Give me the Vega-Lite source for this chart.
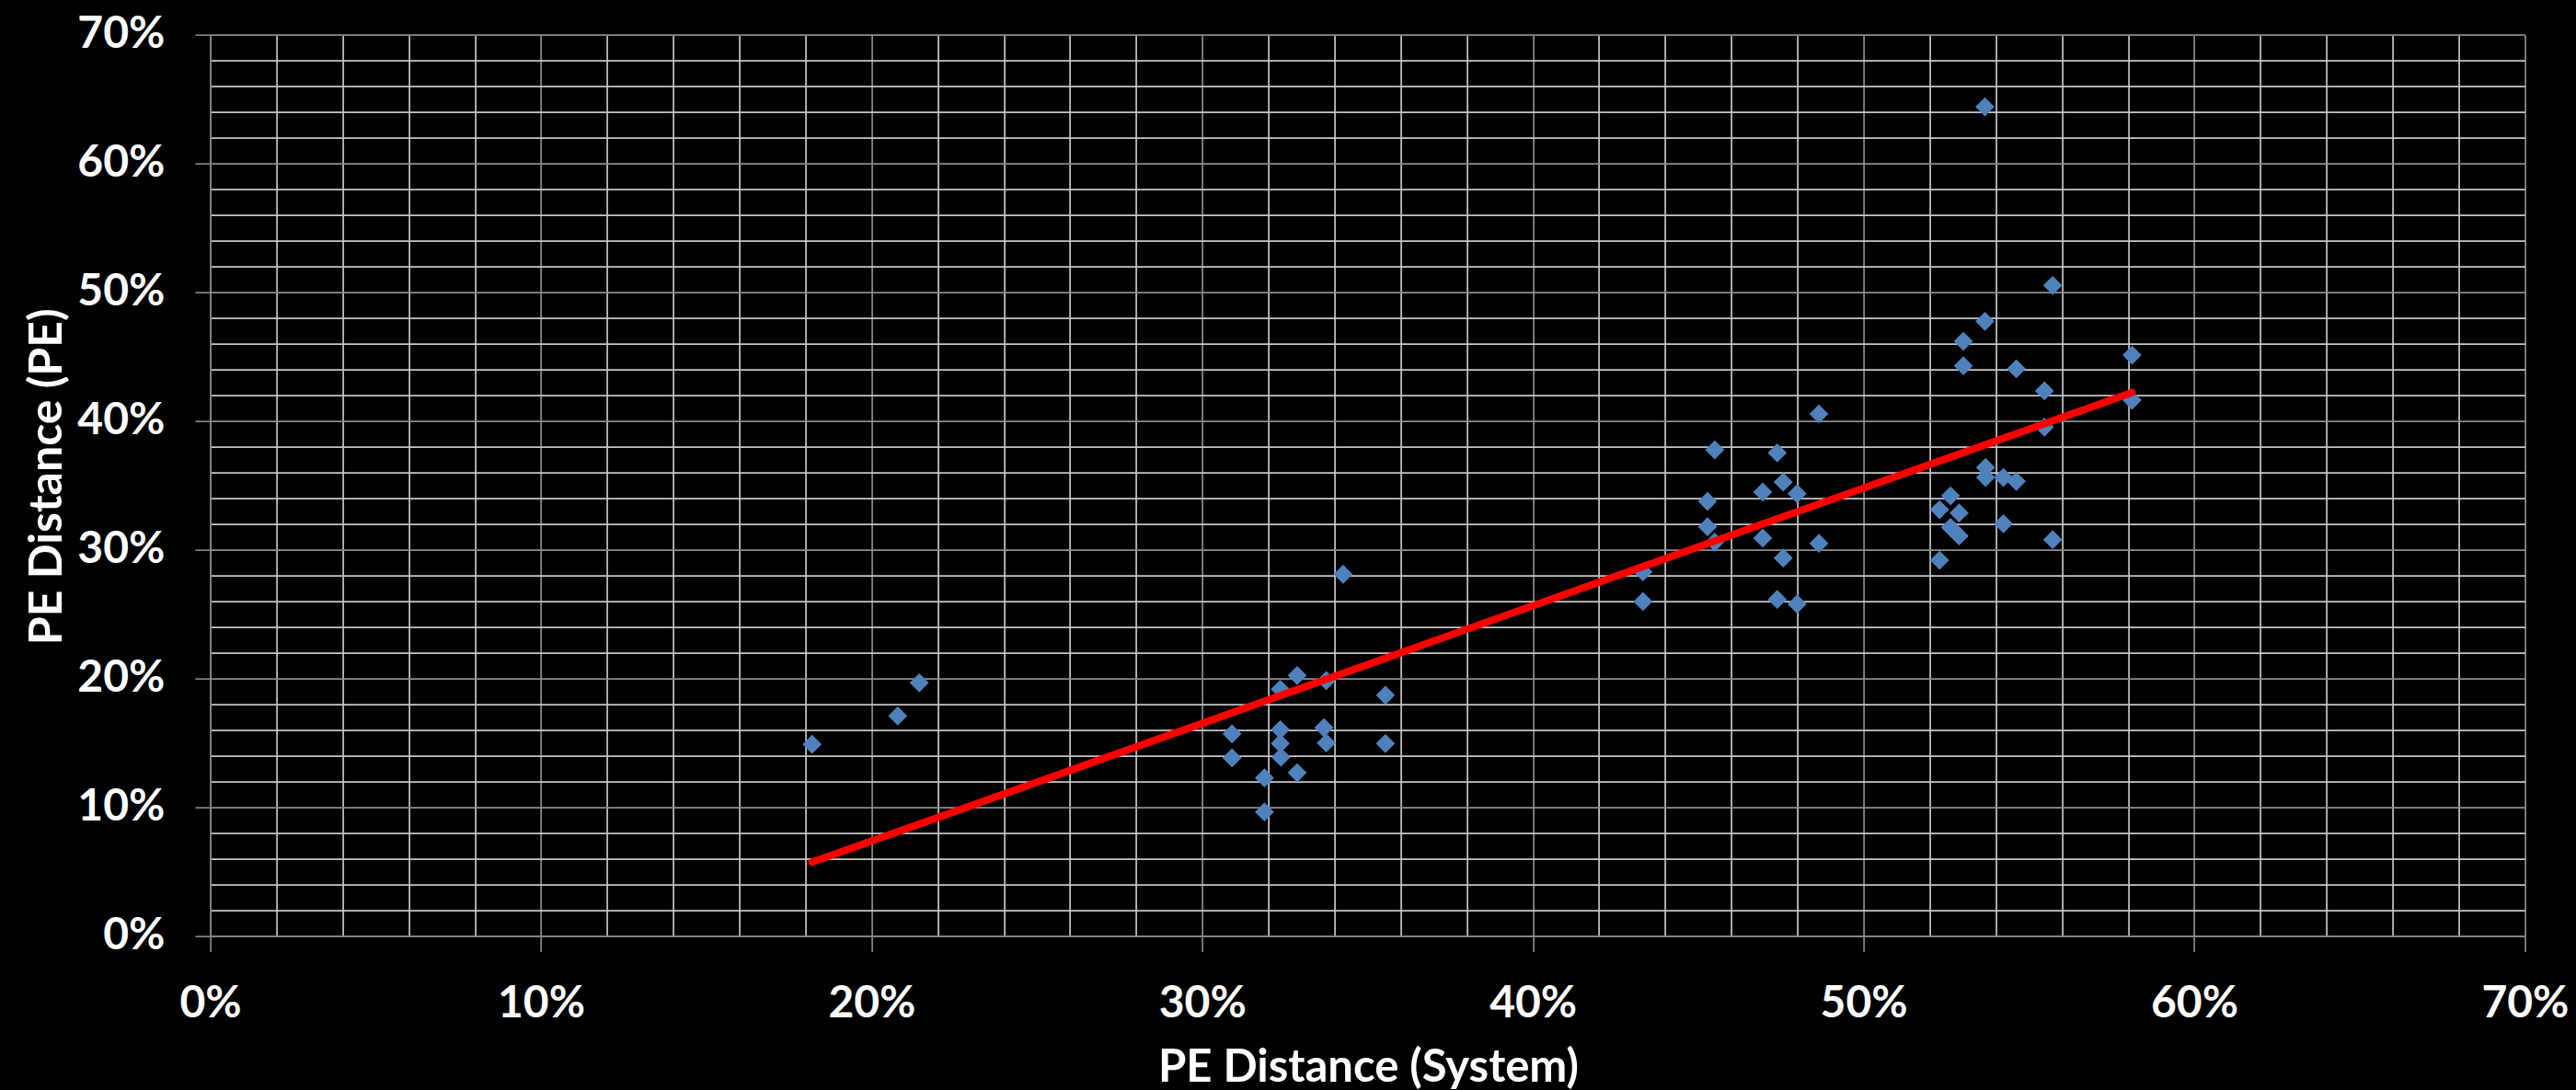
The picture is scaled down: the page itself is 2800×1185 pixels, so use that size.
{
  "$schema": "https://vega.github.io/schema/vega-lite/v6.json",
  "autosize": "none",
  "width": 2515.8,
  "height": 980,
  "padding": {"left": 228.6, "top": 37.7, "right": 55.6, "bottom": 167.3},
  "background": "#000000",
  "config": {
    "view": {"stroke": null},
    "font": "Lato"
  },
  "datasets": {
    "points": [
      {"sys": 0.182, "pe": 0.1489},
      {"sys": 0.2079, "pe": 0.171},
      {"sys": 0.2144, "pe": 0.1967},
      {"sys": 0.3426, "pe": 0.281},
      {"sys": 0.3287, "pe": 0.2024},
      {"sys": 0.3236, "pe": 0.1917},
      {"sys": 0.3375, "pe": 0.1984},
      {"sys": 0.3554, "pe": 0.1871},
      {"sys": 0.309, "pe": 0.1571},
      {"sys": 0.3236, "pe": 0.1603},
      {"sys": 0.3368, "pe": 0.1619},
      {"sys": 0.3236, "pe": 0.1496},
      {"sys": 0.3375, "pe": 0.15},
      {"sys": 0.3554, "pe": 0.1496},
      {"sys": 0.309, "pe": 0.1384},
      {"sys": 0.3238, "pe": 0.1389},
      {"sys": 0.3287, "pe": 0.1269},
      {"sys": 0.3188, "pe": 0.1229},
      {"sys": 0.3188, "pe": 0.0964},
      {"sys": 0.4865, "pe": 0.4055},
      {"sys": 0.455, "pe": 0.3776},
      {"sys": 0.4739, "pe": 0.3753},
      {"sys": 0.4757, "pe": 0.3526},
      {"sys": 0.4695, "pe": 0.3448},
      {"sys": 0.4799, "pe": 0.3436},
      {"sys": 0.4528, "pe": 0.3376},
      {"sys": 0.4528, "pe": 0.3179},
      {"sys": 0.455, "pe": 0.306},
      {"sys": 0.4695, "pe": 0.3091},
      {"sys": 0.4865, "pe": 0.305},
      {"sys": 0.4757, "pe": 0.2936},
      {"sys": 0.4333, "pe": 0.2829},
      {"sys": 0.4333, "pe": 0.2598},
      {"sys": 0.4739, "pe": 0.2614},
      {"sys": 0.4799, "pe": 0.2579},
      {"sys": 0.5369, "pe": 0.3639},
      {"sys": 0.5369, "pe": 0.3562},
      {"sys": 0.5423, "pe": 0.3562},
      {"sys": 0.5462, "pe": 0.3531},
      {"sys": 0.5263, "pe": 0.3419},
      {"sys": 0.523, "pe": 0.3312},
      {"sys": 0.5289, "pe": 0.3286},
      {"sys": 0.5263, "pe": 0.3174},
      {"sys": 0.5289, "pe": 0.3107},
      {"sys": 0.5423, "pe": 0.3203},
      {"sys": 0.5572, "pe": 0.3079},
      {"sys": 0.523, "pe": 0.2919},
      {"sys": 0.5367, "pe": 0.644},
      {"sys": 0.5572, "pe": 0.5053},
      {"sys": 0.5367, "pe": 0.4774},
      {"sys": 0.5302, "pe": 0.4619},
      {"sys": 0.5302, "pe": 0.4429},
      {"sys": 0.5462, "pe": 0.4405},
      {"sys": 0.5547, "pe": 0.4234},
      {"sys": 0.5812, "pe": 0.4512},
      {"sys": 0.5812, "pe": 0.4162},
      {"sys": 0.5547, "pe": 0.3953}
    ],
    "trend": [
      {"sys": 0.182, "pe": 0.0574},
      {"sys": 0.5812, "pe": 0.4221}
    ]
  },
  "encoding": {
    "x": {
      "field": "sys",
      "type": "quantitative",
      "scale": {"domain": [0, 0.7], "nice": false, "zero": false},
      "axis": {
        "title": "PE Distance (System)",
        "values": [0, 0.02, 0.04, 0.06, 0.08, 0.1, 0.12, 0.14, 0.16, 0.18, 0.2, 0.22, 0.24, 0.26, 0.28, 0.3, 0.32, 0.34, 0.36, 0.38, 0.4, 0.42, 0.44, 0.46, 0.48, 0.5, 0.52, 0.54, 0.56, 0.58, 0.6, 0.62, 0.64, 0.66, 0.68, 0.7],
        "labelExpr": "abs(datum.value*10 - round(datum.value*10)) < 0.001 ? format(datum.value, '.0%') : ''",
        "labelOverlap": false,
        "labelFlush": false,
        "labelFont": "Lato",
        "labelFontWeight": "bold",
        "labelFontSize": 48,
        "labelColor": "#ffffff",
        "labelPadding": 33,
        "tickSize": 16.7,
        "tickWidth": 1.7,
        "tickColor": "#868686",
        "tickOpacity": {"condition": {"test": "abs(datum.value*10 - round(datum.value*10)) < 0.001", "value": 1}, "value": 0},
        "domainColor": "#868686",
        "domainWidth": 1.7,
        "grid": true,
        "gridWidth": 1.7,
        "gridColor": {"condition": {"test": "abs(datum.value*10 - round(datum.value*10)) < 0.001", "value": "#8c8c8c"}, "value": "#c6c6c6"},
        "titleFont": "Lato",
        "titleFontWeight": "bold",
        "titleFontSize": 49,
        "titleColor": "#ffffff",
        "titleBaseline": "alphabetic",
        "titleAlign": "center",
        "titleX": 1258.4,
        "titleY": 157.3
      }
    },
    "y": {
      "field": "pe",
      "type": "quantitative",
      "scale": {"domain": [0, 0.7], "nice": false, "zero": false},
      "axis": {
        "title": "PE Distance (PE)",
        "values": [0, 0.02, 0.04, 0.06, 0.08, 0.1, 0.12, 0.14, 0.16, 0.18, 0.2, 0.22, 0.24, 0.26, 0.28, 0.3, 0.32, 0.34, 0.36, 0.38, 0.4, 0.42, 0.44, 0.46, 0.48, 0.5, 0.52, 0.54, 0.56, 0.58, 0.6, 0.62, 0.64, 0.66, 0.68, 0.7],
        "labelExpr": "abs(datum.value*10 - round(datum.value*10)) < 0.001 ? format(datum.value, '.0%') : ''",
        "labelOverlap": false,
        "labelFlush": false,
        "labelFont": "Lato",
        "labelFontWeight": "bold",
        "labelFontSize": 48,
        "labelColor": "#ffffff",
        "labelPadding": 33,
        "tickSize": 16.7,
        "tickWidth": 1.7,
        "tickColor": "#868686",
        "tickOpacity": {"condition": {"test": "abs(datum.value*10 - round(datum.value*10)) < 0.001", "value": 1}, "value": 0},
        "domainColor": "#868686",
        "domainWidth": 1.7,
        "grid": true,
        "gridWidth": 1.7,
        "gridColor": {"condition": {"test": "abs(datum.value*10 - round(datum.value*10)) < 0.001", "value": "#8c8c8c"}, "value": "#c6c6c6"},
        "titleFont": "Lato",
        "titleFontWeight": "bold",
        "titleFontSize": 50,
        "titleColor": "#ffffff",
        "titleAngle": -90,
        "titleBaseline": "alphabetic",
        "titleAlign": "center",
        "titleX": -161.9,
        "titleY": 480
      }
    }
  },
  "layer": [
    {
      "data": {"name": "points"},
      "mark": {"type": "point", "shape": "diamond", "filled": true, "size": 430, "color": "#4f81bd", "opacity": 1}
    },
    {
      "data": {"name": "trend"},
      "mark": {"type": "line", "color": "#ff0000", "strokeWidth": 8, "strokeCap": "round"}
    }
  ]
}
